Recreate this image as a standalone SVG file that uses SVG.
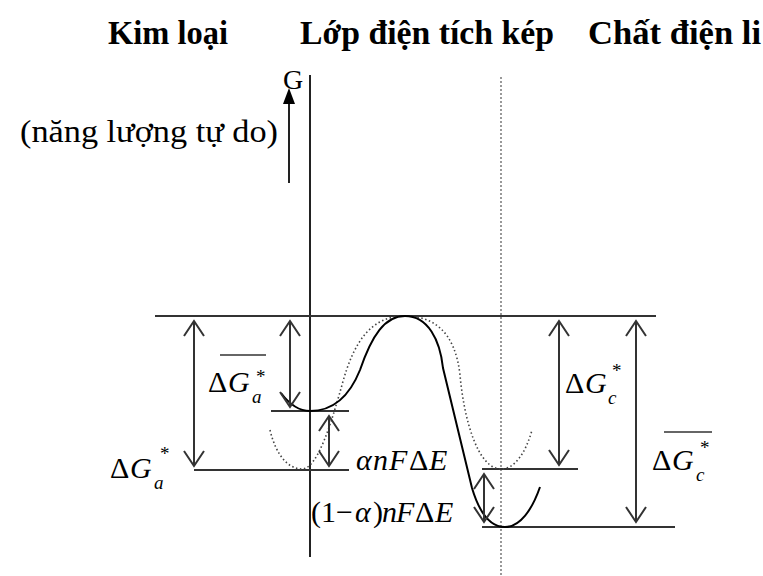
<svg xmlns="http://www.w3.org/2000/svg" width="763" height="576" viewBox="0 0 763 576">
<style>
.t{font-family:"Liberation Serif","Times New Roman",serif;fill:#000}
.b{font-weight:bold;font-size:34px}
.m{font-size:30px}
.i{font-style:italic}
.s{font-size:19px}
.ln{stroke:#333;stroke-width:2;fill:none}
.ar{stroke:#333;stroke-width:2;fill:none;marker-start:url(#v);marker-end:url(#v)}
</style>
<defs>
<marker id="v" markerUnits="userSpaceOnUse" markerWidth="40" markerHeight="40" refX="0" refY="0" orient="auto-start-reverse" style="overflow:visible">
<path d="M-15,-10 L0,0 L-15,10" fill="none" stroke="#333" stroke-width="2"/>
</marker>
</defs>
<rect width="763" height="576" fill="#fff"/>
<g id="titles">
<text class="t b" x="108" y="44" textLength="120" lengthAdjust="spacingAndGlyphs">Kim loại</text>
<text class="t b" x="300" y="44" textLength="254" lengthAdjust="spacingAndGlyphs">Lớp điện tích kép</text>
<text class="t b" x="588" y="44" textLength="173" lengthAdjust="spacingAndGlyphs">Chất điện li</text>
</g>
<g id="axis">
<line x1="289" y1="183" x2="289" y2="100" stroke="#222" stroke-width="2"/>
<polygon points="289,88 283,104 295,104" fill="#000"/>
<text class="t" x="283" y="89" font-size="28">G</text>
<text class="t" x="20" y="142" font-size="32" textLength="258" lengthAdjust="spacingAndGlyphs">(năng lượng tự do)</text>
</g>
<g id="boundaries">
<line x1="310" y1="75" x2="310" y2="557" stroke="#222" stroke-width="2"/>
<line x1="501" y1="77" x2="501" y2="576" stroke="#555" stroke-width="1.2" stroke-dasharray="2 2"/>
</g>
<g id="levels">
<line class="ln" x1="155" y1="316" x2="656" y2="316"/>
<line class="ln" x1="271" y1="411" x2="349" y2="411"/>
<line class="ln" x1="194" y1="470" x2="349" y2="470"/>
<line class="ln" x1="482" y1="469" x2="578" y2="469"/>
<line class="ln" x1="482" y1="527" x2="675" y2="527"/>
</g>
<g id="curves">
<path d="M270,430 C276,455 288,469 302,469 C318,469 332,420 342,385 C354,340 372,316 405,316 C432,316 455,330 460,375 C464,420 478,469 501,469 C515,469 526,452 532,430" fill="none" stroke="#444" stroke-width="1.6" stroke-dasharray="1.5 2.5"/>
<path d="M281,393 C290,405 300,411 310,411 C335,411 350,395 360,370 C372,335 385,316 405,316 C428,316 440,340 443,368 L472,488 C480,515 492,527 505,527 C520,527 532,510 540,487" fill="none" stroke="#000" stroke-width="2"/>
</g>
<g id="connectors">
<line class="ar" x1="194" y1="321" x2="194" y2="466"/>
<line class="ar" x1="290" y1="321" x2="290" y2="407"/>
<line class="ar" x1="329" y1="416" x2="329" y2="466"/>
<line class="ar" x1="484" y1="474" x2="484" y2="522"/>
<line class="ar" x1="559" y1="321" x2="559" y2="465"/>
<line class="ar" x1="636" y1="321" x2="636" y2="522"/>
</g>
<g id="label-dGa">
<text class="t m" x="110" y="478">Δ<tspan class="i" x="130">G</tspan></text>
<text class="t s i" x="154" y="489">a</text>
<text class="t s" x="160" y="460">*</text>
</g>
<g id="label-dGa-bar">
<line x1="220" y1="355" x2="266" y2="355" stroke="#333" stroke-width="1.5"/>
<text class="t m" x="208" y="392">Δ<tspan class="i" x="228">G</tspan></text>
<text class="t s i" x="252" y="403">a</text>
<text class="t s" x="256" y="383">*</text>
</g>
<g id="label-dGc">
<text class="t m" x="565" y="393">Δ<tspan class="i" x="585">G</tspan></text>
<text class="t s i" x="608" y="404">c</text>
<text class="t s" x="612" y="377">*</text>
</g>
<g id="label-dGc-bar">
<line x1="664" y1="432" x2="712" y2="432" stroke="#333" stroke-width="1.5"/>
<text class="t m" x="652" y="470">Δ<tspan class="i" x="672">G</tspan></text>
<text class="t s i" x="696" y="481">c</text>
<text class="t s" x="700" y="454">*</text>
</g>
<g id="label-anFdE">
<text class="t m i" x="356" y="470">α<tspan x="373">n</tspan><tspan x="389">F</tspan><tspan x="409" font-style="normal">Δ</tspan><tspan x="429">E</tspan></text>
</g>
<g id="label-1-anFdE">
<text class="t m" x="311" y="522">(1<tspan x="336">−</tspan><tspan x="355" class="i">α</tspan><tspan x="373">)</tspan><tspan x="382" class="i">n</tspan><tspan x="396" class="i">F</tspan><tspan x="415">Δ</tspan><tspan x="435" class="i">E</tspan></text>
</g>
</svg>
